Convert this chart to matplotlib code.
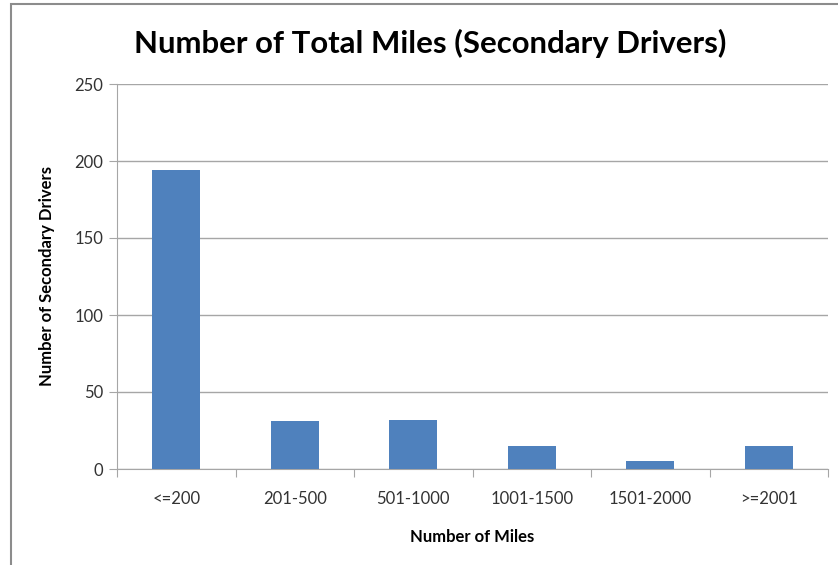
import matplotlib
matplotlib.use("Agg")
import matplotlib.pyplot as plt
from matplotlib.patches import Rectangle
import numpy as np

categories = ["<=200", "201-500", "501-1000", "1001-1500", "1501-2000", ">=2001"]
values = [194, 31, 32, 15, 5, 15]
yticks = [0, 50, 100, 150, 200, 250]

plt.rcParams['font.family'] = ['Lato', 'DejaVu Sans']

W, H = 838, 565
fig = plt.figure(figsize=(W/100, H/100), dpi=100)
fig.patch.set_facecolor('white')

# outer frame
fig.add_artist(Rectangle((11/W, -0.1), 2.0, (H-4)/H + 0.1, transform=fig.transFigure,
                         fill=False, edgecolor='#8c8c8c', linewidth=1.5))

ax = fig.add_axes([117/W, 1-469/H, (828-117)/W, (469-84)/H])
x = np.arange(len(categories))
ax.bar(x, values, width=0.405, color='#4f81bd', zorder=3)
ax.set_xlim(-0.5, len(categories)-0.5)
ax.set_ylim(0, 250)
ax.set_yticks(yticks)
ax.yaxis.grid(True, color='#a6a6a6', linewidth=1, zorder=0)
for s in ['top', 'right']:
    ax.spines[s].set_visible(False)
ax.spines['left'].set_color('#a6a6a6')
ax.spines['bottom'].set_color('#a6a6a6')
ax.tick_params(axis='y', length=6, color='#a6a6a6', labelsize=12, labelcolor='#333333', pad=4)
ax.set_xticks(np.arange(len(categories)+1) - 0.5)
ax.set_xticklabels([])
ax.set_xticks(x, minor=True)
ax.set_xticklabels(categories, minor=True)
ax.tick_params(axis='x', which='major', length=6, color='#a6a6a6')
ax.tick_params(axis='x', which='minor', length=0, labelsize=12, labelcolor='#333333', pad=16)

ax.set_xlabel("Number of Miles", fontsize=12, fontweight='bold', labelpad=16)
ax.set_ylabel("Number of Secondary Drivers", fontsize=12, fontweight='bold', labelpad=14)
fig.text(430/W, 1-43/H, "Number of Total Miles (Secondary Drivers)", fontsize=22.4,
         fontweight='bold', ha='center', va='center')

fig.savefig("out.png", dpi=100)
